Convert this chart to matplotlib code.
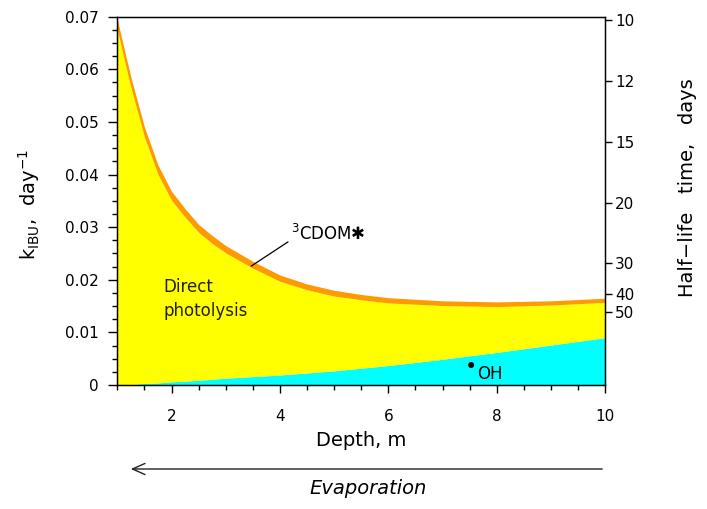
import numpy as np
import matplotlib
matplotlib.use('Agg')
import matplotlib.pyplot as plt

plt.rcParams['font.family'] = ['DejaVu Sans']
plt.rcParams['mathtext.fontset'] = 'dejavusans'

# depth, m
depth = [1, 1.1, 1.25, 1.5, 1.75, 2, 2.25, 2.5, 2.75, 3, 3.5, 4, 4.5, 5,
         5.5, 6, 7, 8, 9, 10]
# total rate constant (top of orange band), day^-1
k_total = [0.0695, 0.0650, 0.0585, 0.0490, 0.0418, 0.0368, 0.0335, 0.0305,
           0.0284, 0.0265, 0.0235, 0.0209, 0.0192, 0.0180, 0.0172, 0.0166,
           0.0160, 0.0158, 0.0160, 0.0165]
# 3CDOM* contribution (orange band width)
k_cdom = [0.0020, 0.0020, 0.0020, 0.0019, 0.0018, 0.0017, 0.0016, 0.0015,
          0.0015, 0.0014, 0.0013, 0.0012, 0.0011, 0.0011, 0.0010, 0.0010,
          0.0009, 0.0009, 0.0008, 0.0008]
# OH contribution (cyan)
k_oh = [0.0, 0.00003, 0.0001, 0.0003, 0.0004, 0.0006, 0.00075, 0.0009,
        0.0011, 0.0013, 0.0016, 0.0019, 0.0023, 0.0027, 0.0032, 0.0037,
        0.0049, 0.0062, 0.0076, 0.0090]
half_life_ticks = [10, 12, 15, 20, 30, 40, 50]

x = np.array(depth)
tot = np.array(k_total)
d_top = tot - np.array(k_cdom)
oh = np.array(k_oh)

fig = plt.figure(figsize=(7.07, 5.09), dpi=100)
ax = fig.add_axes([0.166, 0.2436, 0.690, 0.7236])

ax.fill_between(x, 0, oh, color='#00ffff', lw=0)
ax.fill_between(x, oh, d_top, color='#ffff00', lw=0)
ax.fill_between(x, d_top, tot, color='#ff9900', lw=0)

ax.set_xlim(1, 10)
ax.set_ylim(0, 0.07)
ax.set_xticks([2, 4, 6, 8, 10])
ax.set_xticks(np.arange(1, 10.01, 0.5), minor=True)
ax.set_yticks(np.arange(0, 0.0701, 0.01))
ax.set_yticklabels(['0', '0.01', '0.02', '0.03', '0.04', '0.05', '0.06', '0.07'])
ax.set_yticks(np.arange(0, 0.0701, 0.0025), minor=True)
ax.tick_params(which='major', length=6.5, width=1, labelsize=11, direction='out')
ax.tick_params(which='minor', length=3.5, width=1, direction='out')
ax.tick_params(axis='x', which='major', length=6, pad=11)
ax.tick_params(axis='y', which='major', pad=7)
for s in ax.spines.values():
    s.set_linewidth(1)

ax.set_xlabel('Depth, m', fontsize=14, labelpad=5)
ax.set_ylabel('k$_{\\mathrm{IBU}}$,  day$^{-1}$', fontsize=14)
ax.yaxis.set_label_coords(-0.154, 0.49)

ax2 = ax.twinx()
ax2.set_ylim(0, 0.07)
ax2.set_yticks([np.log(2) / t for t in half_life_ticks])
ax2.set_yticklabels([str(t) for t in half_life_ticks])
ax2.tick_params(length=5, width=1, labelsize=11, direction='out', pad=2)
ax2.set_ylabel('Half\u2212life   time,   days', fontsize=14)
ax2.yaxis.set_label_coords(1.149, 0.535)

# labels inside the plot
ax.text(1.85, 0.0163, 'Direct\nphotolysis', fontsize=12, color='#222200',
        ha='left', va='center', linespacing=1.45)
ax.annotate('$^{3}$CDOM\u2731', xy=(3.47, 0.0226), xytext=(4.2, 0.0287),
            fontsize=12, ha='left', va='center',
            arrowprops=dict(arrowstyle='-', color='black', lw=0.9,
                            shrinkA=0, shrinkB=0, relpos=(0, 0.2)))
ax.text(7.52, 0.0035, '\u2022', fontsize=15, ha='center', va='center')
ax.text(7.64, 0.0021, 'OH', fontsize=12, ha='left', va='center')

# evaporation arrow below the axis
fig.add_artist(matplotlib.patches.FancyArrowPatch(
    (605 / 707, 1 - 469 / 509), (128 / 707, 1 - 469 / 509),
    transform=fig.transFigure, arrowstyle='->,head_length=9,head_width=4',
    lw=1, color='#222222', mutation_scale=1))
fig.text(368 / 707, 1 - 489 / 509, 'Evaporation', fontsize=14, style='italic',
         ha='center', va='center')

fig.savefig('out.png', dpi=100)
